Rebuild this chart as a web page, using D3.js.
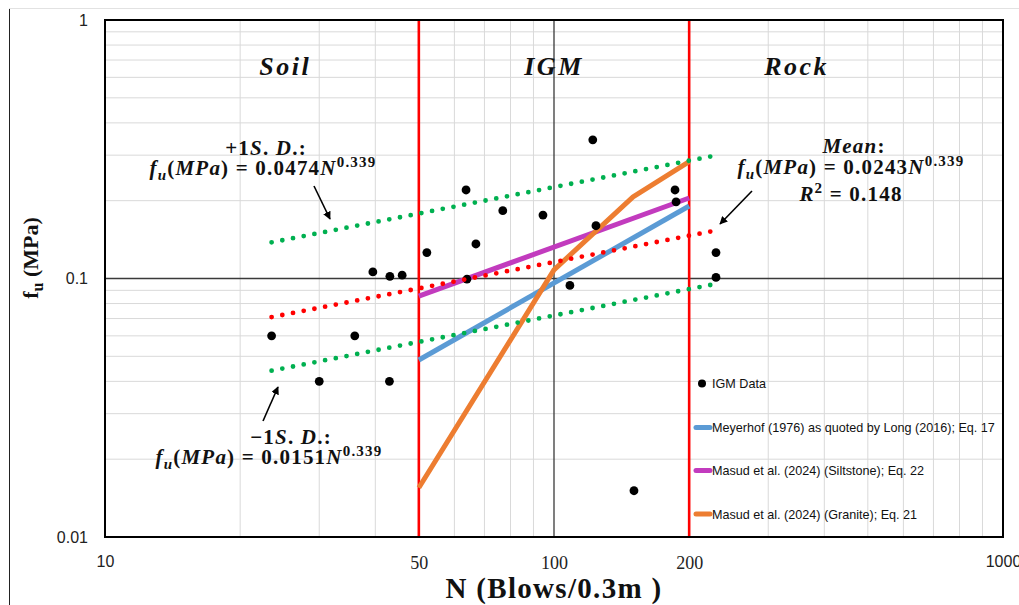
<!DOCTYPE html>
<html>
<head>
<meta charset="utf-8">
<script src="https://cdn.jsdelivr.net/npm/d3@7"></script>
<style>
  html, body { margin: 0; padding: 0; background: #fff; }
  svg { display: block; }
</style>
</head>
<body>
<svg id="chart" width="1019" height="605"></svg>
<script>
// ---------------- DATA ----------------
const xTickValues = [10, 50, 100, 200, 1000];
const yTickValues = [0.01, 0.1, 1];
const serifTicks = [50, 100, 200];

// IGM data points (N, fu)
const igmN  = [23.5, 30, 36, 39.5, 43.1, 43, 45.9, 52.1, 63.7, 64, 67, 76.9, 94.5, 108.5, 122, 124, 150.7, 186, 187, 229.5, 229.5];
const igmFu = [0.060, 0.040, 0.060, 0.106, 0.102, 0.040, 0.103, 0.126, 0.220, 0.0995, 0.136, 0.183, 0.176, 0.094, 0.344, 0.160, 0.0151, 0.220, 0.198, 0.126, 0.101];

// Trend lines (end points)
const meanN = [23.5, 230];   const meanFu = [0.0709, 0.1535];
const plusN = [23.5, 230];   const plusFu = [0.138, 0.2995];
const minusN = [23.5, 230];  const minusFu = [0.0440, 0.0954];

// Correlations
const meyerhofN = [50, 200];            const meyerhofFu = [0.0484, 0.1907];
const siltN = [50, 200];                const siltFu = [0.0855, 0.2048];
const graniteN = [50, 100, 150, 200];   const graniteFu = [0.0155, 0.108, 0.207, 0.283];

// Material boundaries
const boundaries = [50, 200];
const zoneNames = ["Soil", "IGM", "Rock"];
const zoneCenters = [25.2, 100, 347];

const legendItems = [
  {label: "IGM Data", type: "dot", color: "#000000"},
  {label: "Meyerhof (1976) as quoted by Long (2016); Eq. 17", type: "line", color: "#5B9BD5"},
  {label: "Masud et al. (2024) (Siltstone); Eq. 22", type: "line", color: "#C23BBE"},
  {label: "Masud et al. (2024) (Granite); Eq. 21", type: "line", color: "#ED7D31"}
];

// ---------------- CHART ----------------
const svg = d3.select("#chart");
const L = 105, R = 1003, T = 20, B = 537;
const x = d3.scaleLog().domain([10, 1000]).range([L, R]);
const y = d3.scaleLog().domain([0.01, 1]).range([B, T]);

// outer frame remnants
svg.append("line").attr("x1", 9.5).attr("x2", 9.5).attr("y1", 8).attr("y2", 605).attr("stroke", "#222").attr("stroke-width", 1);
svg.append("line").attr("x1", 9).attr("x2", 1019).attr("y1", 8.5).attr("y2", 8.5).attr("stroke", "#e2e2e2").attr("stroke-width", 1);

// minor grid
const minorX = [], minorY = [];
[10, 100].forEach(d => { for (let k = 2; k <= 9; k++) minorX.push(d * k); });
[0.01, 0.1].forEach(d => { for (let k = 2; k <= 9; k++) minorY.push(+(d * k).toFixed(3)); });
const grid = svg.append("g");
grid.selectAll(".gx").data(minorX).enter().append("line")
  .attr("x1", d => x(d)).attr("x2", d => x(d)).attr("y1", T).attr("y2", B)
  .attr("stroke", "#d9d9d9").attr("stroke-width", 1);
grid.selectAll(".gy").data(minorY).enter().append("line")
  .attr("x1", L).attr("x2", R).attr("y1", d => y(d)).attr("y2", d => y(d))
  .attr("stroke", "#d9d9d9").attr("stroke-width", 1);
// major grid
grid.append("line").attr("x1", x(100)).attr("x2", x(100)).attr("y1", T).attr("y2", B).attr("stroke", "#3a3a3a").attr("stroke-width", 1.3);
grid.append("line").attr("x1", L).attr("x2", R).attr("y1", y(0.1)).attr("y2", y(0.1)).attr("stroke", "#3a3a3a").attr("stroke-width", 1.3);

// zone boundaries
svg.selectAll(".bnd").data(boundaries).enter().append("line")
  .attr("x1", d => x(d)).attr("x2", d => x(d)).attr("y1", T).attr("y2", B)
  .attr("stroke", "#FF0000").attr("stroke-width", 2.6);

const line = d3.line().x(d => x(d[0])).y(d => y(d[1]));
const zip = (a, b) => a.map((v, i) => [v, b[i]]);

// correlation lines
[[meyerhofN, meyerhofFu, "#5B9BD5"], [siltN, siltFu, "#C23BBE"], [graniteN, graniteFu, "#ED7D31"]].forEach(([n, f, c]) => {
  svg.append("path").attr("d", line(zip(n, f))).attr("fill", "none")
    .attr("stroke", c).attr("stroke-width", 5).attr("stroke-linejoin", "round");
});

// data points
svg.selectAll(".pt").data(zip(igmN, igmFu)).enter().append("circle")
  .attr("cx", d => x(d[0])).attr("cy", d => y(d[1])).attr("r", 4.4).attr("fill", "#000");

// dotted trend lines
[[plusN, plusFu, "#00B050"], [minusN, minusFu, "#00B050"], [meanN, meanFu, "#FF0000"]].forEach(([n, f, c]) => {
  svg.append("path").attr("d", line(zip(n, f))).attr("fill", "none")
    .attr("stroke", c).attr("stroke-width", 4.8).attr("stroke-linecap", "round")
    .attr("stroke-dasharray", "0 10.9");
});

// plot border
svg.append("rect").attr("x", L).attr("y", T).attr("width", R - L).attr("height", B - T)
  .attr("fill", "none").attr("stroke", "#000").attr("stroke-width", 2);

// axes
const xAxis = svg.append("g").attr("transform", `translate(0,${B})`)
  .call(d3.axisBottom(x).tickValues(xTickValues).tickFormat(d => String(d)).tickSize(0).tickPadding(19));
xAxis.select(".domain").remove();
xAxis.selectAll("text")
  .attr("font-family", d => serifTicks.includes(d) ? "'Liberation Serif', serif" : "'Liberation Sans', Arial, sans-serif")
  .attr("font-size", d => serifTicks.includes(d) ? 18 : 16)
  .attr("fill", "#222");

const yAxis = svg.append("g").attr("transform", `translate(${L},0)`)
  .call(d3.axisLeft(y).tickValues(yTickValues).tickFormat(d => String(d)).tickSize(0).tickPadding(17));
yAxis.select(".domain").remove();
yAxis.selectAll("text").attr("font-family", "'Liberation Sans', Arial, sans-serif").attr("font-size", 16).attr("fill", "#222");

// axis titles
const serifB = "'Liberation Serif', 'DejaVu Serif', serif";
const xt = svg.append("text").attr("x", 554).attr("y", 598).attr("text-anchor", "middle")
  .attr("font-family", serifB).attr("font-weight", "bold").attr("font-size", 29)
  .attr("letter-spacing", 1.3).attr("fill", "#111");
xt.append("tspan").text("N (Blows/0.3m )");

const yt = svg.append("text").attr("transform", "translate(38,258) rotate(-90)").attr("text-anchor", "middle")
  .attr("font-family", serifB).attr("font-weight", "bold").attr("font-size", 22).attr("fill", "#111");
yt.append("tspan").text("f");
yt.append("tspan").attr("font-size", 16).attr("dy", 5).text("u");
yt.append("tspan").attr("dy", -5).text(" (MPa)");

// zone names
svg.selectAll(".zone").data(zoneNames).enter().append("text")
  .attr("x", (d, i) => x(zoneCenters[i])).attr("y", 75).attr("text-anchor", "middle")
  .attr("font-family", serifB).attr("font-weight", "bold").attr("font-style", "italic")
  .attr("font-size", 26).attr("letter-spacing", 2.5).attr("fill", "#111").text(d => d);

// equation annotations
function mathLabel(cx, baseY, segs) {
  const t = svg.append("text").attr("x", cx).attr("y", baseY)
    .attr("text-anchor", "middle").attr("font-family", serifB).attr("font-weight", "bold")
    .attr("font-size", 21).attr("letter-spacing", 1.2).attr("fill", "#111");
  segs.forEach(s => {
    const ts = t.append("tspan").text(s[0]);
    if (s[1] === "i") ts.attr("font-style", "italic");
    if (s[1] === "sub") ts.attr("font-style", "italic").attr("font-size", 15).attr("dy", 5);
    if (s[1] === "unsub") ts.attr("dy", -5);
    if (s[1] === "sup") ts.attr("font-size", 15).attr("dy", -8);
    if (s[1] === "unsup") ts.attr("dy", 8);
  });
}
function fuLine(coef) {
  return [["f", "i"], ["u", "sub"], ["(", "unsub"], ["MPa", "i"], [") = " + coef, ""], ["N", "i"], ["0.339", "sup"]];
}
mathLabel(266, 155, [["+1", ""], ["S", "i"], [". ", ""], ["D", "i"], [".:", ""]]);
mathLabel(263, 175, fuLine("0.0474"));
mathLabel(291, 444, [["\u22121", ""], ["S", "i"], [". ", ""], ["D", "i"], [".:", ""]]);
mathLabel(269, 464, fuLine("0.0151"));
mathLabel(854, 153, [["Mean", "i"], [":", ""]]);
mathLabel(851, 174, fuLine("0.0243"));
mathLabel(851, 201, [["R", "i"], ["2", "sup"], [" = 0.148", "unsup"]]);

// arrows
const defs = svg.append("defs");
defs.append("marker").attr("id", "arr").attr("viewBox", "0 0 10 10").attr("refX", 9).attr("refY", 5)
  .attr("markerWidth", 5).attr("markerHeight", 5).attr("orient", "auto")
  .append("path").attr("d", "M0,0 L10,5 L0,10 z").attr("fill", "#000");
const arrows = [[314, 186, 330, 219], [752, 191, 720, 224], [263, 421, 278, 387]];
svg.selectAll(".arrow").data(arrows).enter().append("line")
  .attr("x1", d => d[0]).attr("y1", d => d[1]).attr("x2", d => d[2]).attr("y2", d => d[3])
  .attr("stroke", "#000").attr("stroke-width", 1.6).attr("marker-end", "url(#arr)");

// legend
const legY = [383.5, 427.5, 470.5, 514];
const leg = svg.append("g");
legendItems.forEach((d, i) => {
  if (d.type === "dot") {
    leg.append("circle").attr("cx", 702).attr("cy", legY[i]).attr("r", 4).attr("fill", d.color);
  } else {
    leg.append("line").attr("x1", 696).attr("x2", 710).attr("y1", legY[i]).attr("y2", legY[i])
      .attr("stroke", d.color).attr("stroke-width", 5).attr("stroke-linecap", "round");
  }
  leg.append("text").attr("x", 712).attr("y", legY[i] + 4.5).attr("font-family", "'Liberation Sans', Arial, sans-serif")
    .attr("font-size", 12.6).attr("fill", "#111").text(d.label);
});
</script>
</body>
</html>
